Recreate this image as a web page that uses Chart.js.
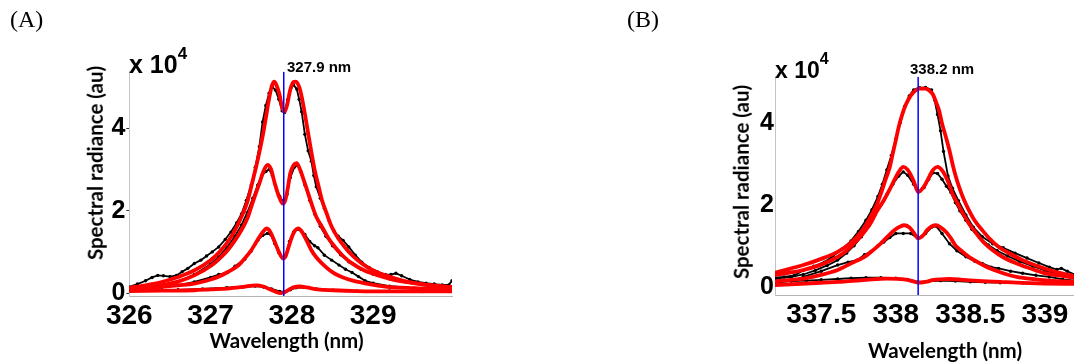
<!DOCTYPE html>
<html>
<head>
<meta charset="utf-8">
<script src="https://cdn.jsdelivr.net/npm/chart.js@4.4.1/dist/chart.umd.min.js"></script>
<style>
  html, body { margin: 0; padding: 0; width: 1074px; height: 363px; overflow: hidden; background: #fff; }
  body { position: relative; }
  canvas { position: absolute; top: 0; }
  .lbl { position: absolute; white-space: nowrap; line-height: 1; color: #000; }
  .panel { font-family: "Liberation Serif", "Times New Roman", serif; font-size: 24px; }
  .mult { font-family: "Liberation Sans", Arial, sans-serif; font-weight: bold; }
  .mult span { position: relative; }
  .peak { font-family: "Liberation Sans", Arial, sans-serif; font-weight: bold; font-size: 15px; }
  .xtitle { font-family: Lato, "Open Sans", sans-serif; font-weight: bold; font-size: 20.5px; width: 300px; text-align: center; }
  .ytitle { font-family: Lato, "Open Sans", sans-serif; font-weight: bold; font-size: 20.5px; width: 280px; text-align: center;
            transform: translate(-50%, -50%) rotate(-90deg); }
</style>
</head>
<body>
<canvas id="chartA" width="537" height="363" style="left:0"></canvas>
<canvas id="chartB" width="500" height="363" style="left:620px"></canvas>

<div class="lbl panel" style="left:10px; top:6.5px">(A)</div>
<div class="lbl panel" style="left:627px; top:6.5px">(B)</div>

<div class="lbl mult" style="left:129px; top:51.7px; font-size:25px">x 10<span style="font-size:17px; top:-13.7px">4</span></div>
<div class="lbl mult" style="left:775px; top:59px; font-size:23px">x 10<span style="font-size:16px; top:-14px">4</span></div>

<div class="lbl peak" style="left:287px; top:59.3px">327.9 nm</div>
<div class="lbl peak" style="left:910px; top:61px">338.2 nm</div>

<div class="lbl xtitle" style="left:136.5px; top:330px">Wavelength (nm)</div>
<div class="lbl xtitle" style="left:795px; top:340px">Wavelength (nm)</div>
<div class="lbl ytitle" style="left:94.5px; top:162.5px">Spectral radiance (au)</div>
<div class="lbl ytitle" style="left:740.5px; top:181.5px">Spectral radiance (au)</div>

<script>
// values in units of 10^4, wavelength in nm

// --- panel A (327.9 nm) ---
const fitA1 = [[326.00,0.13],[326.20,0.19],[326.40,0.27],[326.60,0.39],[326.80,0.55],[327.00,0.80],[327.10,0.98],[327.21,1.24],[327.30,1.52],[327.38,1.85],[327.45,2.20],[327.50,2.58],[327.55,2.98],[327.58,3.23],[327.64,3.80],[327.68,4.25],[327.71,4.61],[327.75,5.00],[327.78,5.13],[327.81,5.05],[327.85,4.80],[327.88,4.50],[327.91,4.40],[327.94,4.55],[327.98,4.93],[328.02,5.12],[328.05,5.13],[328.09,5.00],[328.12,4.77],[328.16,4.35],[328.20,3.88],[328.24,3.42],[328.28,2.99],[328.33,2.58],[328.37,2.26],[328.43,1.92],[328.49,1.61],[328.57,1.33],[328.65,1.12],[328.75,0.90],[328.86,0.72],[329.00,0.55],[329.15,0.43],[329.35,0.31],[329.55,0.23],[329.75,0.18],[329.97,0.15]];
const fitA2 = [[326.00,0.10],[326.20,0.14],[326.39,0.19],[326.60,0.28],[326.80,0.43],[327.01,0.67],[327.10,0.82],[327.21,1.04],[327.30,1.28],[327.38,1.53],[327.45,1.80],[327.50,2.09],[327.55,2.38],[327.60,2.66],[327.65,2.95],[327.70,3.11],[327.74,3.02],[327.79,2.66],[327.84,2.35],[327.89,2.17],[327.92,2.26],[327.95,2.55],[327.98,2.90],[328.02,3.10],[328.06,3.15],[328.10,3.00],[328.16,2.66],[328.24,2.18],[328.30,1.85],[328.37,1.61],[328.45,1.33],[328.53,1.12],[328.63,0.90],[328.74,0.72],[328.90,0.54],[329.06,0.43],[329.30,0.30],[329.55,0.23],[329.75,0.18],[329.97,0.14]];
const fitA3 = [[326.00,0.09],[326.20,0.12],[326.39,0.15],[326.60,0.19],[326.80,0.23],[327.00,0.33],[327.09,0.39],[327.20,0.50],[327.34,0.67],[327.42,0.84],[327.50,1.04],[327.55,1.20],[327.60,1.36],[327.65,1.50],[327.69,1.57],[327.73,1.50],[327.79,1.24],[327.84,1.00],[327.89,0.84],[327.92,0.88],[327.96,1.12],[328.00,1.36],[328.04,1.52],[328.08,1.57],[328.12,1.50],[328.16,1.36],[328.20,1.20],[328.24,1.04],[328.30,0.87],[328.37,0.72],[328.45,0.58],[328.53,0.47],[328.63,0.38],[328.74,0.31],[328.95,0.22],[329.15,0.16],[329.50,0.12],[329.97,0.09]];
const fitA4 = [[326.00,0.05],[326.40,0.06],[326.80,0.07],[327.00,0.09],[327.21,0.11],[327.40,0.15],[327.56,0.19],[327.65,0.16],[327.71,0.11],[327.78,0.05],[327.85,0.00],[327.90,0.01],[327.96,0.08],[328.02,0.14],[328.10,0.16],[328.18,0.14],[328.32,0.09],[328.51,0.07],[328.80,0.05],[329.15,0.04],[329.60,0.04],[329.97,0.04]];

const measA1 = [[326.00,0.15],[326.10,0.22],[326.20,0.30],[326.28,0.38],[326.35,0.43],[326.42,0.42],[326.50,0.40],[326.58,0.43],[326.65,0.52],[326.72,0.60],[326.80,0.72],[326.88,0.80],[326.95,0.90],[327.02,1.00],[327.10,1.12],[327.18,1.30],[327.25,1.48],[327.32,1.70],[327.38,1.92],[327.44,2.25],[327.50,2.62],[327.55,3.05],[327.60,3.55],[327.64,4.15],[327.68,4.55],[327.72,4.85],[327.76,5.00],[327.80,4.92],[327.84,4.70],[327.88,4.42],[327.91,4.38],[327.95,4.70],[327.99,4.98],[328.02,5.05],[328.06,4.95],[328.09,4.70],[328.12,4.40],[328.16,3.85],[328.20,3.45],[328.24,3.20],[328.27,2.85],[328.30,2.58],[328.35,2.30],[328.40,2.05],[328.46,1.75],[328.52,1.50],[328.57,1.38],[328.63,1.28],[328.70,1.12],[328.78,0.92],[328.86,0.75],[328.95,0.62],[329.05,0.52],[329.15,0.45],[329.22,0.45],[329.28,0.48],[329.35,0.42],[329.45,0.33],[329.55,0.27],[329.65,0.24],[329.75,0.22],[329.85,0.20],[329.93,0.20],[329.97,0.30]];
const measA2 = [[326.00,0.08],[326.20,0.12],[326.40,0.18],[326.60,0.28],[326.80,0.45],[327.00,0.70],[327.10,0.88],[327.20,1.10],[327.30,1.38],[327.38,1.65],[327.45,1.95],[327.52,2.30],[327.58,2.62],[327.63,2.85],[327.68,2.95],[327.72,3.00],[327.76,2.85],[327.80,2.60],[327.85,2.35],[327.90,2.20],[327.94,2.40],[327.98,2.80],[328.03,3.05],[328.07,3.10],[328.11,2.95],[328.16,2.62],[328.22,2.25],[328.28,1.92],[328.35,1.62],[328.42,1.38],[328.50,1.15],[328.60,0.93],[328.70,0.76],[328.85,0.58],[329.00,0.46],[329.20,0.35],[329.40,0.27],[329.60,0.21],[329.80,0.17],[329.97,0.15]];
const measA3 = [[326.00,0.08],[326.20,0.10],[326.40,0.14],[326.60,0.19],[326.80,0.27],[327.00,0.38],[327.10,0.45],[327.21,0.50],[327.30,0.65],[327.42,0.82],[327.50,1.02],[327.58,1.28],[327.64,1.40],[327.70,1.45],[327.74,1.42],[327.79,1.20],[327.84,0.98],[327.89,0.85],[327.93,0.95],[327.97,1.25],[328.02,1.48],[328.07,1.55],[328.12,1.50],[328.16,1.42],[328.22,1.25],[328.28,1.15],[328.32,1.10],[328.40,0.92],[328.49,0.80],[328.58,0.68],[328.66,0.58],[328.74,0.50],[328.82,0.40],[328.90,0.30],[329.00,0.24],[329.20,0.17],[329.50,0.12],[329.97,0.10]];
const measA4 = [[326.00,0.06],[326.30,0.07],[326.60,0.08],[326.90,0.10],[327.20,0.13],[327.40,0.15],[327.55,0.17],[327.65,0.15],[327.75,0.10],[327.85,0.04],[327.90,0.03],[327.98,0.08],[328.05,0.13],[328.15,0.14],[328.30,0.10],[328.50,0.07],[328.80,0.05],[329.20,0.05],[329.60,0.04],[329.97,0.05]];

const ticksAX = [326, 327, 328, 329];
const ticksAY = [0, 2, 4];
const lineA = 327.9;

// --- panel B (338.2 nm) ---
const fitB1 = [[337.19,0.34],[337.30,0.45],[337.38,0.53],[337.50,0.68],[337.61,0.85],[337.68,1.02],[337.74,1.22],[337.79,1.45],[337.83,1.70],[337.87,1.98],[337.90,2.27],[337.93,2.60],[337.96,2.92],[337.98,3.25],[338.00,3.57],[338.02,3.90],[338.045,4.22],[338.07,4.46],[338.10,4.66],[338.13,4.78],[338.16,4.83],[338.20,4.83],[338.225,4.78],[338.25,4.68],[338.27,4.50],[338.29,4.30],[338.31,3.98],[338.336,3.65],[338.36,3.32],[338.38,3.00],[338.40,2.72],[338.425,2.43],[338.455,2.14],[338.49,1.87],[338.53,1.61],[338.58,1.38],[338.63,1.17],[338.69,0.97],[338.77,0.80],[338.85,0.65],[338.94,0.52],[339.03,0.41],[339.12,0.32],[339.20,0.26]];
const fitB2 = [[337.19,0.29],[337.30,0.35],[337.38,0.41],[337.50,0.54],[337.61,0.73],[337.67,0.88],[337.72,1.06],[337.78,1.30],[337.83,1.54],[337.87,1.82],[337.92,2.11],[337.96,2.38],[337.99,2.60],[338.02,2.80],[338.05,2.92],[338.08,2.85],[338.12,2.58],[338.15,2.31],[338.19,2.45],[338.224,2.68],[338.25,2.85],[338.28,2.92],[338.31,2.84],[338.336,2.68],[338.36,2.48],[338.38,2.27],[338.415,2.03],[338.45,1.79],[338.49,1.55],[338.54,1.30],[338.59,1.08],[338.65,0.89],[338.72,0.72],[338.81,0.57],[338.90,0.45],[338.99,0.34],[339.10,0.27],[339.20,0.22]];
const fitB3 = [[337.19,0.13],[337.30,0.17],[337.38,0.20],[337.50,0.29],[337.61,0.41],[337.70,0.57],[337.79,0.73],[337.85,0.90],[337.90,1.06],[337.95,1.24],[337.99,1.38],[338.03,1.47],[338.056,1.50],[338.09,1.45],[338.12,1.32],[338.15,1.18],[338.185,1.26],[338.21,1.38],[338.24,1.47],[338.27,1.50],[338.30,1.45],[338.336,1.34],[338.37,1.18],[338.40,1.01],[338.445,0.86],[338.49,0.73],[338.56,0.58],[338.63,0.45],[338.72,0.33],[338.81,0.24],[338.92,0.19],[339.03,0.15],[339.20,0.12]];
const fitB4 = [[337.19,0.04],[337.40,0.08],[337.61,0.12],[337.80,0.17],[337.94,0.20],[338.056,0.18],[338.12,0.13],[338.15,0.10],[338.20,0.12],[338.246,0.16],[338.30,0.18],[338.36,0.19],[338.45,0.17],[338.58,0.14],[338.70,0.12],[338.81,0.10],[339.00,0.08],[339.20,0.07]];

const measB1 = [[337.19,0.22],[337.25,0.24],[337.32,0.28],[337.38,0.40],[337.45,0.50],[337.52,0.60],[337.58,0.75],[337.64,0.92],[337.70,1.12],[337.75,1.35],[337.80,1.62],[337.84,1.88],[337.88,2.20],[337.91,2.50],[337.94,2.85],[337.97,3.20],[338.00,3.60],[338.03,4.00],[338.06,4.40],[338.09,4.65],[338.12,4.80],[338.16,4.85],[338.20,4.86],[338.24,4.80],[338.26,4.55],[338.28,4.20],[338.30,3.80],[338.32,3.30],[338.35,2.70],[338.38,2.40],[338.42,2.10],[338.47,1.75],[338.52,1.45],[338.58,1.22],[338.65,1.05],[338.72,0.95],[338.80,0.82],[338.88,0.70],[338.96,0.58],[339.03,0.48],[339.08,0.42],[339.11,0.45],[339.15,0.38],[339.20,0.30]];
const measB2 = [[337.19,0.20],[337.30,0.24],[337.38,0.30],[337.46,0.40],[337.54,0.52],[337.61,0.65],[337.67,0.82],[337.72,1.00],[337.77,1.22],[337.82,1.48],[337.86,1.75],[337.90,2.00],[337.94,2.25],[337.98,2.50],[338.02,2.70],[338.05,2.80],[338.08,2.72],[338.12,2.50],[338.15,2.32],[338.19,2.42],[338.22,2.62],[338.25,2.78],[338.28,2.76],[338.31,2.62],[338.34,2.45],[338.37,2.30],[338.40,2.05],[338.43,1.85],[338.47,1.62],[338.51,1.40],[338.56,1.20],[338.62,1.02],[338.68,0.88],[338.75,0.75],[338.83,0.62],[338.92,0.50],[339.00,0.40],[339.10,0.30],[339.20,0.25]];
const measB3 = [[337.19,0.10],[337.30,0.14],[337.38,0.24],[337.50,0.38],[337.61,0.53],[337.68,0.60],[337.74,0.65],[337.79,0.78],[337.83,0.85],[337.88,1.00],[337.92,1.09],[337.96,1.20],[338.00,1.30],[338.05,1.30],[338.10,1.30],[338.15,1.18],[338.20,1.30],[338.24,1.45],[338.27,1.48],[338.31,1.30],[338.36,1.05],[338.41,0.88],[338.47,0.73],[338.53,0.62],[338.58,0.57],[338.64,0.48],[338.69,0.45],[338.77,0.38],[338.85,0.33],[338.94,0.28],[339.03,0.24],[339.12,0.18],[339.20,0.15]];
const measB4 = [[337.19,0.16],[337.30,0.14],[337.40,0.15],[337.50,0.17],[337.61,0.19],[337.70,0.21],[337.80,0.22],[337.90,0.22],[338.00,0.21],[338.08,0.18],[338.15,0.12],[338.22,0.13],[338.30,0.15],[338.40,0.14],[338.50,0.12],[338.60,0.11],[338.70,0.10],[338.85,0.09],[339.00,0.08],[339.20,0.08]];

const ticksBX = [337.5, 338, 338.5, 339];
const ticksBY = [0, 2, 4];
const lineB = 338.15;

const tickFont = size => ({ family: '"Liberation Sans", Arial, Helvetica, sans-serif', size: size, weight: 'bold' });
const pts = arr => arr.map(([x, y]) => ({ x, y }));

function buildChart(id, c) {
  const datasets = [{
    data: [{ x: c.line, y: c.yMax }, { x: c.line, y: c.yMin }],
    borderColor: 'rgb(0,0,255)', borderWidth: 1.5, pointRadius: 0, order: 0
  }];
  c.fits.forEach(f => datasets.push({
    data: pts(f), borderColor: 'rgb(255,0,0)', borderWidth: 3.8, pointRadius: 0,
    cubicInterpolationMode: 'monotone', borderCapStyle: 'round', borderJoinStyle: 'round', order: 1
  }));
  c.measured.forEach(m => datasets.push({
    data: pts(m), borderColor: '#000', borderWidth: 1.8, pointRadius: 1.7,
    pointBackgroundColor: '#000', pointBorderWidth: 0, order: 2
  }));

  return new Chart(document.getElementById(id), {
    type: 'line',
    data: { datasets },
    options: {
      responsive: false,
      animation: false,
      events: [],
      layout: { padding: c.padding },
      plugins: { legend: { display: false }, tooltip: { enabled: false } },
      scales: {
        x: {
          type: 'linear', min: c.xMin, max: c.xMax,
          afterBuildTicks: s => { s.ticks = c.xTicks.map(value => ({ value })); },
          afterFit: s => { s.height = 40; },
          grid: { display: false, drawTicks: false },
          border: { color: '#b4b4b4', width: 1 },
          ticks: { font: tickFont(28), color: '#000', padding: 3, maxRotation: 0, autoSkip: false, callback: v => String(v) }
        },
        y: {
          type: 'linear', min: c.yMin, max: c.yMax,
          afterBuildTicks: s => { s.ticks = c.yTicks.map(value => ({ value })); },
          afterFit: s => { s.width = 40; },
          grid: { display: c.yTickMarks, drawOnChartArea: false, drawTicks: c.yTickMarks, tickLength: 3, color: '#333' },
          border: { color: '#c4c4c4', width: 1 },
          ticks: { font: tickFont(25), color: '#000', padding: c.yPad, autoSkip: false, callback: v => String(v) }
        }
      }
    }
  });
}

buildChart('chartA', {
  fits: [fitA1, fitA2, fitA3, fitA4],
  measured: [measA1, measA2, measA3, measA4],
  line: lineA, xTicks: ticksAX, yTicks: ticksAY,
  xMin: 326, xMax: 329.97, yMin: -0.07, yMax: 5.37,
  padding: { left: 89.3, right: 85, top: 71.7, bottom: 27 },
  yTickMarks: true, yPad: 1
});

buildChart('chartB', {
  fits: [fitB1, fitB2, fitB3, fitB4],
  measured: [measB1, measB2, measB3, measB4],
  line: lineB, xTicks: ticksBX, yTicks: ticksBY,
  xMin: 337.19, xMax: 339.47, yMin: -0.2, yMax: 5.12,
  padding: { left: 115, right: 5, top: 76.7, bottom: 28 },
  yTickMarks: false, yPad: 1
});
</script>
</body>
</html>
